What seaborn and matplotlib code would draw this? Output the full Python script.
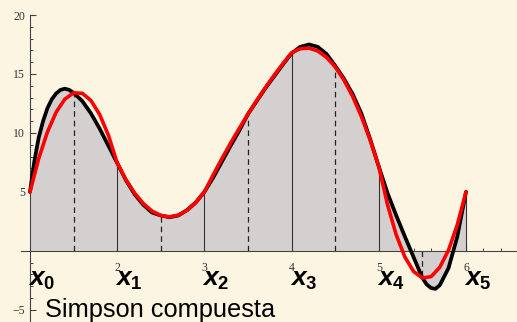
import numpy as np
import matplotlib
matplotlib.use("Agg")
import matplotlib.pyplot as plt
import matplotlib.ticker as mticker
import seaborn as sns

# f(x) (black curve)
x_black = [1.0, 1.05, 1.1, 1.15, 1.2, 1.25, 1.3, 1.35, 1.4, 1.45, 1.5,
           1.6, 1.7, 1.8, 1.9, 2.0, 2.1, 2.2, 2.3, 2.4, 2.5,
           2.6, 2.7, 2.8, 2.9, 3.0, 3.1, 3.2, 3.3, 3.4, 3.5,
           3.6, 3.7, 3.8, 3.9, 4.0, 4.1, 4.2, 4.3, 4.4, 4.5,
           4.6, 4.7, 4.8, 4.9, 5.0, 5.1, 5.2, 5.3, 5.4, 5.5,
           5.55, 5.6, 5.65, 5.7, 5.8, 5.9, 6.0]
y_black = [5.0, 7.6, 9.6, 11.0, 12.1, 12.85, 13.35, 13.65, 13.75, 13.65, 13.4,
           12.7, 11.65, 10.35, 8.9, 7.45, 6.0, 4.8, 3.9, 3.25, 3.0,
           2.85, 3.0, 3.45, 4.1, 5.0, 6.2, 7.55, 8.9, 10.2, 11.6,
           12.7, 13.8, 14.8, 15.8, 16.75, 17.3, 17.5, 17.3, 16.7, 15.7,
           14.6, 13.3, 11.65, 9.5, 7.15, 4.9, 3.0, 1.2, -0.55, -2.3,
           -2.85, -3.15, -3.22, -2.9, -1.45, 1.2, 5.0]

# composite Simpson parabolas (red curve), sampled every 0.1
x_red = np.linspace(1.0, 6.0, 51)
y_red = [5.0, 7.83, 10.08, 11.76, 12.87, 13.4, 13.36, 12.74, 11.55, 9.79,
         7.45, 6.04, 4.90, 4.01, 3.37, 3.0, 2.88, 3.03, 3.43, 4.08,
         5.0, 6.43, 7.81, 9.13, 10.39, 11.6, 12.75, 13.85, 14.89, 15.87,
         16.8, 17.14, 17.19, 16.95, 16.42, 15.6, 14.49, 13.09, 11.40, 9.42,
         7.15, 3.92, 1.36, -0.53, -1.75, -2.3, -2.18, -1.39, 0.07, 2.2,
         5.0]

nodes_x = [1, 2, 3, 4, 5, 6]
nodes_y = [5.0, 7.45, 5.0, 16.8, 7.15, 5.0]
mid_x = [1.5, 2.5, 3.5, 4.5, 5.5]
mid_y = [13.4, 3.0, 11.6, 15.6, -2.3]
node_labels = [r"$x_{0}$", r"$x_{1}$", r"$x_{2}$", r"$x_{3}$", r"$x_{4}$", r"$x_{5}$"]

x_ticks = [2, 3, 4, 5, 6]
y_ticks = [-5, 5, 10, 15, 20]
y_tick_labels = ["\u22125", "5", "10", "15", "20"]

bg = "#fcf5e2"
sns.set_theme(style="ticks", rc={"axes.facecolor": bg, "figure.facecolor": bg})
plt.rcParams["mathtext.fontset"] = "custom"
plt.rcParams["mathtext.it"] = "Liberation Sans:bold:italic"
plt.rcParams["mathtext.rm"] = "Liberation Sans:bold"
plt.rcParams["mathtext.bf"] = "Liberation Sans:bold"

fig = plt.figure(figsize=(5.17, 3.22), dpi=100)
ax = fig.add_axes([21 / 517, 0, 496 / 517, 307 / 322])

# shaded area under f
ax.fill_between(x_black, 0, y_black, color="#d5d0d0", linewidth=0, zorder=1)

# ordinates at the nodes and the midpoints
ax.vlines(nodes_x[1:], 0, nodes_y[1:], color="#333333", linewidth=0.8, zorder=2)
ax.vlines(mid_x, 0, mid_y, color="#222222", linewidth=0.9,
          linestyles=(0, (4.5, 3.2)), zorder=2)

sns.lineplot(x=x_black, y=y_black, color="black", linewidth=2.7, sort=False, ax=ax,
             zorder=3, solid_joinstyle="round", solid_capstyle="round")
sns.lineplot(x=x_red, y=y_red, color="#ff0000", linewidth=2.6, sort=False, ax=ax,
             zorder=4, solid_joinstyle="round", solid_capstyle="round")

ax.set_xlim(0.897, 6.585)
ax.set_ylim(-6.03, 20)

# Mathematica-style axes crossing at (1, 0)
for side in ["top", "right"]:
    ax.spines[side].set_visible(False)
ax.spines["left"].set_position(("data", 1))
ax.spines["bottom"].set_position(("data", 0))
for side in ["left", "bottom"]:
    ax.spines[side].set_color("#444444")
    ax.spines[side].set_linewidth(0.8)
    ax.spines[side].set_zorder(2.5)

ax.xaxis.set_major_locator(mticker.FixedLocator(x_ticks))
ax.xaxis.set_minor_locator(mticker.MultipleLocator(0.2))
ax.yaxis.set_major_locator(mticker.FixedLocator(y_ticks))
ax.yaxis.set_minor_locator(mticker.MultipleLocator(1))
ax.set_xticklabels([str(t) for t in x_ticks], fontfamily="Liberation Serif", fontsize=8.5)
ax.set_yticklabels(y_tick_labels, fontfamily="Liberation Serif", fontsize=8.5)

ax.tick_params(axis="x", which="major", direction="in", length=5, width=0.8,
               color="#444444", pad=8.2, labelcolor="#333333")
ax.tick_params(axis="x", which="minor", direction="in", length=2.5, width=0.7, color="#444444")
ax.tick_params(axis="y", which="major", direction="in", length=4, width=0.8,
               color="#444444", pad=3.6, labelcolor="#333333")
ax.tick_params(axis="y", which="minor", direction="in", length=2.5, width=0.7, color="#444444")
ax.set_xlabel("")
ax.set_ylabel("")
ax.grid(False)

for xn, lab in zip(nodes_x, node_labels):
    ax.annotate(lab, xy=(xn, 0), xytext=(-1.5, -25), textcoords="offset points",
                ha="left", va="baseline", fontsize=19, color="black")

fig.text(45 / 517, 5 / 322, "Simpson compuesta", fontfamily="Liberation Sans",
         fontsize=18.3, color="black", ha="left", va="baseline")

fig.savefig("out.png", dpi=100, facecolor=bg)
